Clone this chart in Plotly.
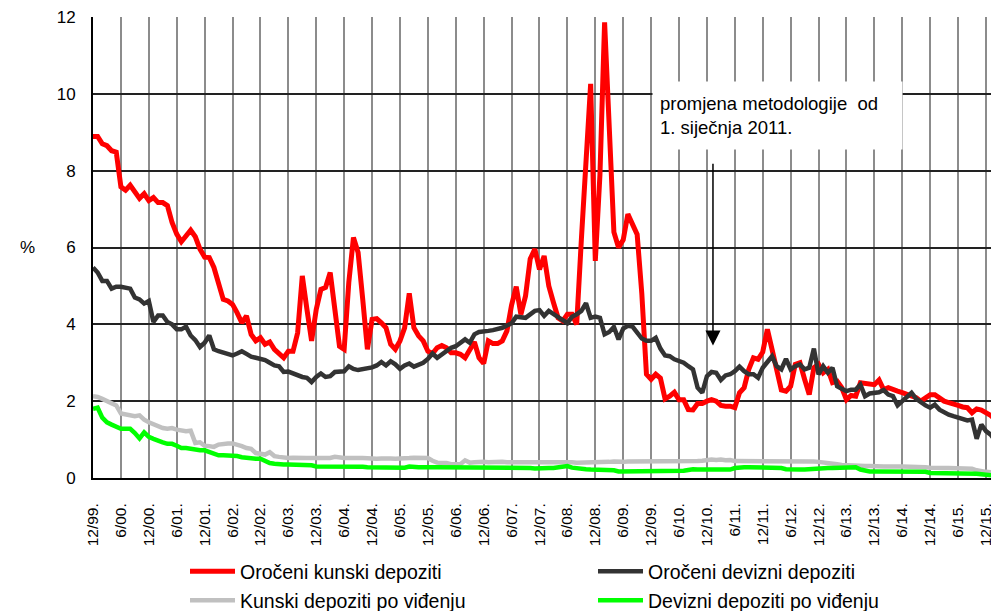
import plotly.graph_objects as go

# monthly values, 12/1999 onwards (%)
orocheni_kunski = [
    8.89, 8.89, 8.70, 8.65, 8.52, 8.48, 7.58, 7.49, 7.62, 7.45,
    7.28, 7.40, 7.22, 7.30, 7.17, 7.17, 7.09, 6.65, 6.35, 6.15,
    6.30, 6.45, 6.28, 5.96, 5.75, 5.74, 5.48, 5.04, 4.65, 4.61,
    4.52, 4.30, 4.04, 4.22, 3.74, 3.57, 3.65, 3.48, 3.54, 3.35,
    3.22, 3.13, 3.30, 3.30, 3.78, 5.26, 4.39, 3.57, 4.39, 4.91,
    4.96, 5.35, 4.39, 3.43, 3.35, 5.09, 6.26, 5.87, 4.65, 3.35,
    4.13, 4.15, 4.04, 3.91, 3.48, 3.35, 3.57, 3.91, 4.81, 3.91,
    3.70, 3.57, 3.30, 3.24, 3.39, 3.45, 3.39, 3.26, 3.26, 3.22,
    3.13, 3.35, 3.54, 3.13, 2.98, 3.57, 3.50, 3.50, 3.57, 3.83,
    4.50, 4.98, 4.26, 4.74, 5.70, 5.96, 5.43, 5.78, 5.00, 4.57,
    4.17, 4.09, 4.26, 4.26, 4.00, 6.20, 8.40, 10.26, 5.65, 7.90,
    11.86, 9.10, 6.40, 6.00, 6.20, 6.87, 6.60, 6.34, 4.80, 2.70,
    2.57, 2.70, 2.60, 2.06, 2.13, 2.23, 2.04, 2.04, 1.78, 1.77,
    1.94, 1.94, 2.00, 2.04, 2.00, 1.89, 1.87, 1.87, 1.83, 2.22,
    2.35, 2.83, 3.13, 3.09, 3.28, 3.87, 3.35, 2.78, 2.29, 2.26,
    2.39, 2.96, 3.00, 2.57, 2.17, 2.87, 2.96, 2.74, 2.83, 2.48,
    2.52, 2.35, 2.04, 2.15, 2.13, 2.48, 2.46, 2.46, 2.43, 2.55,
    2.30, 2.35, 2.29, 2.26, 2.22, 2.17, 2.13, 2.09, 2.00, 2.09,
    2.17, 2.17, 2.09, 2.00, 1.96, 1.91, 1.89, 1.85, 1.83, 1.70,
    1.80, 1.77, 1.70, 1.63, 1.52,
]

orocheni_devizni = [
    5.48, 5.35, 5.13, 5.13, 4.93, 4.98, 4.98, 4.96, 4.93, 4.70,
    4.65, 4.54, 4.61, 4.06, 4.23, 4.23, 4.06, 4.00, 3.87, 3.87,
    3.94, 3.71, 3.59, 3.41, 3.52, 3.71, 3.35, 3.30, 3.26, 3.20,
    3.19, 3.24, 3.30, 3.23, 3.16, 3.13, 3.11, 3.07, 3.00, 2.93,
    2.91, 2.76, 2.77, 2.72, 2.65, 2.63, 2.61, 2.50, 2.63, 2.72,
    2.63, 2.65, 2.76, 2.78, 2.78, 2.91, 2.84, 2.81, 2.83, 2.84,
    2.88, 2.93, 3.02, 2.93, 3.04, 2.96, 2.84, 2.93, 2.98, 2.90,
    2.96, 3.00, 3.10, 3.24, 3.13, 3.22, 3.30, 3.39, 3.43, 3.52,
    3.61, 3.52, 3.74, 3.80, 3.83, 3.83, 3.85, 3.87, 3.91, 3.97,
    4.03, 4.20, 4.17, 4.17, 4.26, 4.35, 4.37, 4.22, 4.35, 4.26,
    4.17, 4.11, 4.03, 4.20, 4.26, 4.35, 4.55, 4.17, 4.20, 4.17,
    3.74, 3.80, 3.93, 3.61, 3.89, 3.96, 3.94, 3.80, 3.63, 3.57,
    3.57, 3.65, 3.37, 3.19, 3.17, 3.09, 3.04, 3.00, 2.91, 2.83,
    2.35, 2.22, 2.65, 2.76, 2.74, 2.55, 2.67, 2.70, 2.78, 2.90,
    2.78, 2.70, 2.70, 2.61, 2.87, 3.04, 3.17, 2.91, 2.83, 3.10,
    2.83, 2.91, 2.96, 2.83, 2.87, 3.37, 2.70, 2.91, 2.74, 2.87,
    2.39, 2.32, 2.26, 2.30, 2.30, 2.43, 2.13, 2.20, 2.22, 2.23,
    2.29, 2.17, 2.13, 1.89, 2.00, 2.13, 2.22, 2.06, 1.97, 1.89,
    1.83, 1.91, 1.78, 1.70, 1.65, 1.61, 1.57, 1.54, 1.50, 1.52,
    1.02, 1.39, 1.22, 1.13, 0.98,
]

kunski_po_vidjenju = [
    2.13, 2.11, 2.06, 2.00, 1.96, 1.89, 1.68, 1.65, 1.65, 1.61,
    1.63, 1.52, 1.45, 1.39, 1.35, 1.30, 1.28, 1.30, 1.26, 1.24,
    1.22, 1.23, 0.91, 0.93, 0.84, 0.83, 0.81, 0.87, 0.90, 0.90,
    0.90, 0.87, 0.83, 0.78, 0.76, 0.65, 0.63, 0.61, 0.67, 0.57,
    0.55, 0.52, 0.52, 0.53, 0.52, 0.52, 0.52, 0.52, 0.52, 0.53,
    0.52, 0.52, 0.55, 0.53, 0.52, 0.52, 0.53, 0.52, 0.52, 0.51,
    0.50, 0.50, 0.51, 0.52, 0.51, 0.50, 0.50, 0.50, 0.52, 0.53,
    0.53, 0.52, 0.52, 0.45, 0.40, 0.39, 0.39, 0.36, 0.35, 0.36,
    0.46, 0.40, 0.41, 0.42, 0.42, 0.41, 0.42, 0.43, 0.42, 0.41,
    0.41, 0.42, 0.42, 0.41, 0.41, 0.41, 0.42, 0.42, 0.42, 0.43,
    0.43, 0.42, 0.42, 0.41, 0.40, 0.40, 0.41, 0.42, 0.42, 0.41,
    0.41, 0.42, 0.43, 0.42, 0.42, 0.43, 0.43, 0.42, 0.42, 0.42,
    0.43, 0.44, 0.43, 0.43, 0.42, 0.44, 0.44, 0.43, 0.43, 0.42,
    0.44, 0.45, 0.47, 0.48, 0.47, 0.48, 0.46, 0.47, 0.44, 0.44,
    0.43, 0.44, 0.44, 0.43, 0.44, 0.44, 0.45, 0.44, 0.44, 0.44,
    0.44, 0.43, 0.43, 0.44, 0.44, 0.43, 0.42, 0.41, 0.40, 0.38,
    0.36, 0.34, 0.33, 0.32, 0.32, 0.31, 0.31, 0.31, 0.30, 0.30,
    0.30, 0.30, 0.31, 0.30, 0.30, 0.30, 0.29, 0.29, 0.30, 0.28,
    0.27, 0.26, 0.26, 0.26, 0.26, 0.26, 0.25, 0.25, 0.25, 0.24,
    0.20, 0.17, 0.16, 0.15, 0.13,
]

devizni_po_vidjenju = [
    1.80, 1.83, 1.57, 1.45, 1.39, 1.35, 1.28, 1.28, 1.28, 1.17,
    1.03, 1.19, 1.07, 1.02, 0.96, 0.93, 0.89, 0.89, 0.84, 0.78,
    0.78, 0.76, 0.72, 0.72, 0.72, 0.67, 0.63, 0.59, 0.59, 0.59,
    0.59, 0.57, 0.54, 0.52, 0.50, 0.50, 0.50, 0.43, 0.39, 0.37,
    0.35, 0.35, 0.35, 0.35, 0.35, 0.35, 0.34, 0.33, 0.30, 0.30,
    0.30, 0.30, 0.31, 0.31, 0.30, 0.30, 0.31, 0.30, 0.29, 0.28,
    0.28, 0.28, 0.29, 0.29, 0.28, 0.28, 0.28, 0.27, 0.30, 0.28,
    0.28, 0.28, 0.29, 0.28, 0.28, 0.28, 0.27, 0.26, 0.26, 0.26,
    0.26, 0.26, 0.26, 0.26, 0.26, 0.26, 0.26, 0.26, 0.26, 0.26,
    0.26, 0.26, 0.26, 0.26, 0.26, 0.25, 0.26, 0.26, 0.26, 0.26,
    0.27, 0.29, 0.31, 0.27, 0.25, 0.24, 0.23, 0.22, 0.22, 0.22,
    0.21, 0.21, 0.20, 0.17, 0.17, 0.17, 0.17, 0.17, 0.17, 0.17,
    0.17, 0.17, 0.17, 0.17, 0.17, 0.17, 0.17, 0.19, 0.21, 0.23,
    0.22, 0.22, 0.22, 0.22, 0.22, 0.22, 0.22, 0.22, 0.26, 0.28,
    0.28, 0.28, 0.28, 0.28, 0.28, 0.28, 0.28, 0.28, 0.26, 0.23,
    0.22, 0.22, 0.22, 0.22, 0.23, 0.24, 0.26, 0.26, 0.26, 0.26,
    0.26, 0.26, 0.26, 0.26, 0.28, 0.22, 0.18, 0.17, 0.17, 0.17,
    0.17, 0.17, 0.17, 0.17, 0.17, 0.17, 0.17, 0.17, 0.17, 0.16,
    0.13, 0.13, 0.13, 0.13, 0.13, 0.13, 0.13, 0.13, 0.12, 0.12,
    0.11, 0.10, 0.08, 0.06, 0.06,
]

tick_labels = [
    "12/99.", "6/00.", "12/00.", "6/01.", "12/01.", "6/02.", "12/02.",
    "6/03.", "12/03.", "6/04.", "12/04.", "6/05.", "12/05.", "6/06.",
    "12/06.", "6/07.", "12/07.", "6/08.", "12/08.", "6/09.", "12/09.",
    "6/10.", "12/10.", "6/11.", "12/11.", "6/12.", "12/12.", "6/13.",
    "12/13.", "6/14.", "12/14.", "6/15.", "12/15.",
]

months = list(range(len(orocheni_kunski)))
tick_pos = [6 * i for i in range(len(tick_labels))]

FONT = "Arial, Liberation Sans, sans-serif"

series = [
    ("Oročeni kunski depoziti", orocheni_kunski, "#ff0000", 5, "legend"),
    ("Oročeni devizni depoziti", orocheni_devizni, "#333333", 4.5, "legend2"),
    ("Kunski depoziti po viđenju", kunski_po_vidjenju, "#c0c0c0", 4.5, "legend3"),
    ("Devizni depoziti po viđenju", devizni_po_vidjenju, "#00ff00", 4.5, "legend4"),
]

fig = go.Figure()
for name, vals, col, w, leg in series:
    fig.add_trace(go.Scatter(x=months, y=vals, mode="lines", name=name,
                             line=dict(color=col, width=w), legend=leg))

# one legend per entry so the two-column layout sits where it should
# (positions given in page pixels; plot area spans x 93..999, y 17..478)
def leg(px_left, py_mid):
    return dict(x=(px_left - 93) / 906, y=(478.3 - py_mid) / 461.3,
                xanchor="left", yanchor="middle", orientation="h",
                bgcolor="rgba(0,0,0,0)", font=dict(family=FONT, size=19.5, color="black"),
                itemwidth=45)

# the page body has an 8px margin, so the figure is shrunk by that much
fig.update_layout(
    width=991, height=603,
    margin=dict(l=85, r=0, t=9, b=133, autoexpand=False),
    paper_bgcolor="white", plot_bgcolor="white",
    font=dict(family=FONT, color="black"),
    showlegend=True,
    legend=leg(185, 572),
    legend2=leg(593, 572),
    legend3=leg(185, 601),
    legend4=leg(593, 601),
    xaxis=dict(range=[0, 194.8], tickvals=tick_pos, ticktext=tick_labels,
               tickangle=-90, tickfont=dict(size=15.5), ticks="",
               ticklabelstandoff=17, ticklabeloverflow="allow",
               showgrid=True, gridcolor="#8c8c8c", gridwidth=1.5,
               showline=True, linecolor="black", linewidth=2, zeroline=False),
    yaxis=dict(range=[0, 12.001], tickvals=[0, 2, 4, 6, 8, 10, 12],
               tickfont=dict(size=17), ticks="",
               ticklabelstandoff=12, ticklabeloverflow="allow",
               showgrid=True, gridcolor="#222222", gridwidth=1.5,
               showline=True, linecolor="black", linewidth=2, zeroline=False),
)

fig.add_annotation(text="%", xref="paper", yref="y", x=(18 - 93) / 906, y=6,
                   showarrow=False, font=dict(size=17))

fig.add_annotation(text="promjena metodologije\u00a0 od<br>1. siječnja 2011.",
                   xref="x", yref="y", x=147.1, y=9.44, showarrow=False,
                   align="left", width=235, height=53, borderpad=7,
                   bgcolor="white", font=dict(size=18.5))

fig.add_annotation(text="", xref="x", yref="y", axref="x", ayref="y",
                   x=133.3, y=3.45, ax=133.3, ay=8.22, showarrow=True,
                   arrowhead=2, arrowsize=2, arrowwidth=1.5, arrowcolor="black")

fig.write_html("out.html")
